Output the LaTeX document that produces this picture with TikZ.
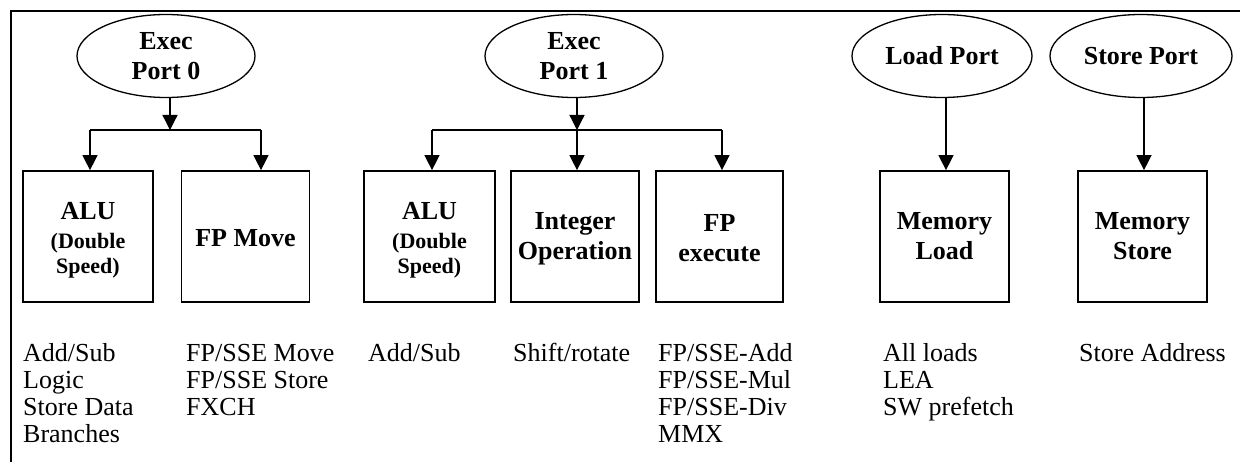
\documentclass[tikz,border=0pt]{standalone}
\usepackage{fontspec}
\setmainfont{Liberation Serif}
\usetikzlibrary{shapes.geometric,arrows.meta}
\tikzset{
  port/.style={ellipse, draw, line width=1.3pt, minimum width=178pt, minimum height=83pt,
    inner sep=0pt, align=center, font=\fontsize{26}{30}\selectfont\bfseries},
  unitbox/.style={rectangle, draw, line width=1.7pt, minimum width=129pt, minimum height=131pt,
    inner sep=0pt, align=center, font=\fontsize{26}{30}\selectfont\bfseries},
  conn/.style={line width=1.3pt},
  arr/.style={conn, -{Triangle[width=15pt,length=15pt]}},
  ops/.style={anchor=north west, inner sep=0pt, align=left, font=\fontsize{26}{27}\selectfont},
  frame/.style={line width=1.5pt}
}
\newcommand{\smallbf}{\fontsize{22}{26}\selectfont}
\begin{document}
\begin{tikzpicture}[x=1pt,y=-1pt]
\useasboundingbox (0,0) rectangle (1240,462);
% frame
\coordinate (fa) at (11,462);
\coordinate (fb) at (11,11);
\coordinate (fc) at (1240,11);
\draw[frame] (fa) -- (fb) -- (fc);

% ports
\node[port] (p0) at (166,56) {Exec\\Port 0};
\node[port] (p1) at (574,56) {Exec\\Port 1};
\node[port, minimum width=180pt] (lp) at (942,56) {Load Port};
\node[port, minimum width=182pt] (sp) at (1141,56) {Store Port};

% units
\node[unitbox, minimum width=130pt] (alu0) at (88,236.5) {\rule{0pt}{25pt}ALU\\[-1.5pt]{\smallbf(Double}\\[-5pt]{\smallbf Speed)}};
\node[unitbox, minimum width=128pt] (fpm) at (245.5,236.5) {\rule{0pt}{21pt}FP Move};
\node[unitbox, minimum width=131pt] (alu1) at (429.5,236.5) {\rule{0pt}{25pt}ALU\\[-1.5pt]{\smallbf(Double}\\[-5pt]{\smallbf Speed)}};
\node[unitbox, minimum width=128pt] (intop) at (575,236.5) {\rule{0pt}{21pt}Integer\\Operation};
\node[unitbox, minimum width=127pt] (fpx) at (719.5,236.5) {\rule{0pt}{21pt}FP\\execute};
\node[unitbox, minimum width=129pt] (mload) at (944.5,236.5) {Memory\\Load};
\node[unitbox, minimum width=129pt] (mstore) at (1142.5,236.5) {Memory\\Store};

% port 0 connectors
\coordinate (j0) at (170,130);
\coordinate (l0) at (90,130);
\coordinate (r0) at (261,130);
\draw[arr] (p0.south -| j0) -- (j0);
\draw[conn] (l0) -- (r0);
\draw[arr] (l0) -- (l0 |- alu0.north);
\draw[arr] (r0) -- (r0 |- fpm.north);

% port 1 connectors
\coordinate (j1) at (577,130);
\coordinate (l1) at (432,130);
\coordinate (r1) at (722,130);
\draw[arr] (p1.south -| j1) -- (j1);
\draw[conn] (l1) -- (r1);
\draw[arr] (l1) -- (l1 |- alu1.north);
\draw[arr] (j1) -- (j1 |- intop.north);
\draw[arr] (r1) -- (r1 |- fpx.north);

% load / store
\coordinate (lx) at (946,0);
\coordinate (sx) at (1144,0);
\draw[arr] (lp.south -| lx) -- (mload.north -| lx);
\draw[arr] (sp.south -| sx) -- (mstore.north -| sx);

% operation lists
\node[ops] (o1) at (23,342.6) {\strut Add/Sub\\Logic\\Store Data\\Branches};
\node[ops] (o2) at (186,342.6) {\strut FP/SSE Move\\FP/SSE Store\\FXCH};
\node[ops] (o3) at (368,342.6) {\strut Add/Sub};
\node[ops] (o4) at (513,342.6) {\strut Shift/rotate};
\node[ops] (o5) at (658,342.6) {\strut FP/SSE-Add\\FP/SSE-Mul\\FP/SSE-Div\\MMX};
\node[ops] (o6) at (883,342.6) {\strut All loads\\LEA\\SW prefetch};
\node[ops] (o7) at (1079,342.6) {\strut Store Address};
\end{tikzpicture}
\end{document}
